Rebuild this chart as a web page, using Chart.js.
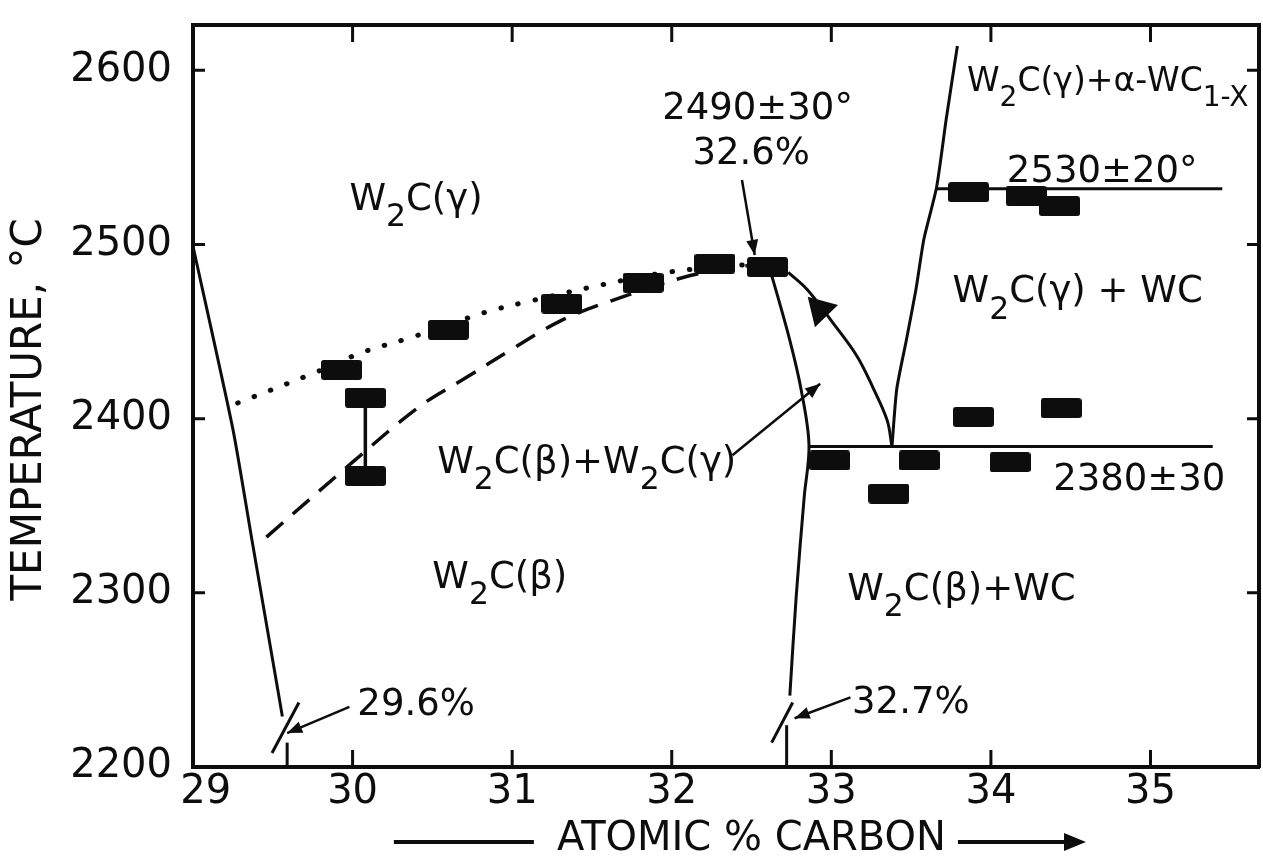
<!DOCTYPE html>
<html>
<head>
<meta charset="utf-8">
<title>W2C phase diagram</title>
<script src="https://cdn.jsdelivr.net/npm/chart.js@4.4.1/dist/chart.umd.min.js"></script>
<style>
  html, body { margin: 0; padding: 0; background: #fff; }
  canvas { display: block; }
</style>
</head>
<body>
<canvas id="chart" width="1263" height="858"></canvas>
<script>
// measured points (atomic % C, temperature in °C), drawn as black bars
const rectX = [29.93, 30.08, 30.08, 30.60, 31.31, 31.82, 32.27, 32.60, 32.99, 33.36, 33.55, 33.89, 34.12, 34.44, 33.86, 34.22, 34.43];
const rectY = [2428, 2412, 2367, 2451, 2466, 2478, 2489, 2487, 2376, 2357, 2376, 2401, 2375, 2406, 2530, 2528, 2522];

// range bar between the two points at ~30.1 %
const errX = [30.08, 30.08];
const errY = [2412, 2367];

// phase boundaries
const leftBoundX = [29.0, 29.25, 29.37, 29.50, 29.56];
const leftBoundY = [2499, 2394, 2330, 2261, 2229];
const dottedX = [29.28, 29.78, 30.06, 30.38, 30.83, 31.09, 31.57, 31.97, 32.41, 32.60];
const dottedY = [2409, 2427, 2438, 2447, 2461, 2467, 2477, 2484, 2488, 2489];
const dashedX = [29.46, 30.00, 30.42, 30.72, 31.00, 31.30, 31.60, 32.11, 32.49, 32.60];
const dashedY = [2332, 2375, 2407, 2424, 2440, 2456, 2467, 2482, 2488, 2489];
const betaBoundX = [32.60, 32.63, 32.74, 32.81, 32.86, 32.83, 32.78, 32.74];
const betaBoundY = [2489, 2481, 2445, 2417, 2385, 2355, 2298, 2241];
const arcX = [33.38, 33.35, 33.26, 33.16, 33.01, 32.85, 32.73];
const arcY = [2384, 2399, 2418, 2436, 2455, 2474, 2484];
const rightBoundX = [33.38, 33.41, 33.47, 33.53, 33.58, 33.66, 33.72, 33.79];
const rightBoundY = [2384, 2417, 2445, 2474, 2503, 2533, 2572, 2614];
const eutectoidX = [32.86, 35.39];
const eutectoidY = [2384, 2384];
const upperX = [33.66, 35.45];
const upperY = [2532, 2532];

// axis break marks near 29.6 % and 32.7 %
const break1X = [29.495, 29.664];
const break1Y = [2208, 2237];
const stub1X = [29.59, 29.59];
const stub1Y = [2200, 2214];
const break2X = [32.626, 32.758];
const break2Y = [2214, 2237];
const stub2X = [32.72, 32.72];
const stub2Y = [2200, 2224];

// leader lines, start -> tip
const lead1X = [32.44, 32.52];
const lead1Y = [2537, 2494];
const lead2X = [32.38, 32.93];
const lead2Y = [2379, 2420];
const lead3X = [29.98, 29.59];
const lead3Y = [2234.5, 2219.5];
const lead4X = [33.12, 32.77];
const lead4Y = [2240, 2228];

// text in the field ( _x or _{..} = subscript )
const noteText = ['W_2C(γ)', '2490±30°', '32.6%', 'W_2C(γ)+α-WC_{1-X}', '2530±20°', 'W_2C(γ) + WC',
  'W_2C(β)+W_2C(γ)', 'W_2C(β)', '2380±30', 'W_2C(β)+WC', '29.6%', '32.7%'];
const noteX = [29.98, 31.94, 32.13, 33.85, 34.10, 33.76, 30.53, 30.50, 34.39, 33.10, 30.03, 33.13];
const noteY = [2520, 2572, 2546, 2588, 2536, 2467, 2369, 2303, 2359, 2296, 2230, 2231];

const INK = '#0d0d0d';
const FONT = '"DejaVu Sans", sans-serif';
const NOTE_SIZE = 37;

const pts = (xs, ys) => xs.map((x, i) => ({ x, y: ys[i] }));
const line = (xs, ys, extra) => Object.assign({
  data: pts(xs, ys), showLine: true, pointRadius: 0, pointHoverRadius: 0,
  borderColor: INK, borderWidth: 3, tension: 0.35, fill: false
}, extra || {});

// black bar marker
const bar = document.createElement('canvas');
bar.width = 41; bar.height = 20;
const bctx = bar.getContext('2d');
bctx.fillStyle = INK;
bctx.beginPath();
bctx.roundRect(0, 0, 41, 20, 3);
bctx.fill();

function drawRich(ctx, str, x, y, size) {
  let i = 0, cx = x;
  while (i < str.length) {
    let seg, sub = false;
    if (str[i] === '_') {
      sub = true;
      if (str[i + 1] === '{') {
        const j = str.indexOf('}', i);
        seg = str.slice(i + 2, j);
        i = j + 1;
      } else {
        seg = str[i + 1];
        i += 2;
      }
    } else {
      let j = i;
      while (j < str.length && str[j] !== '_') j++;
      seg = str.slice(i, j);
      i = j;
    }
    ctx.font = (sub ? size * 0.85 : size) + 'px ' + FONT;
    ctx.fillText(seg, cx, sub ? y + size * 0.45 : y);
    cx += ctx.measureText(seg).width;
  }
}

function head(ctx, sx, sy, tx, ty, len, half) {
  const a = Math.atan2(ty - sy, tx - sx);
  const bx = tx - Math.cos(a) * len, by = ty - Math.sin(a) * len;
  ctx.beginPath();
  ctx.moveTo(tx, ty);
  ctx.lineTo(bx + Math.sin(a) * half, by - Math.cos(a) * half);
  ctx.lineTo(bx - Math.sin(a) * half, by + Math.cos(a) * half);
  ctx.closePath();
  ctx.fill();
}

const extras = {
  id: 'extras',
  afterDatasetsDraw(chart) {
    const { ctx, chartArea: a, scales: { x, y } } = chart;
    const px = v => x.getPixelForValue(v), py = v => y.getPixelForValue(v);
    ctx.save();
    ctx.strokeStyle = INK;
    ctx.fillStyle = INK;

    // inward ticks on all four sides
    ctx.lineWidth = 3;
    ctx.beginPath();
    x.ticks.forEach(t => {
      const p = px(t.value);
      ctx.moveTo(p, a.bottom); ctx.lineTo(p, a.bottom - 17);
      ctx.moveTo(p, a.top); ctx.lineTo(p, a.top + 17);
    });
    y.ticks.forEach(t => {
      const p = py(t.value);
      ctx.moveTo(a.left, p); ctx.lineTo(a.left + 12, p);
      ctx.moveTo(a.right, p); ctx.lineTo(a.right - 12, p);
    });
    ctx.stroke();

    // arrow heads
    [[lead1X, lead1Y], [lead2X, lead2Y], [lead3X, lead3Y], [lead4X, lead4Y]].forEach(([lx, ly]) => {
      head(ctx, px(lx[0]), py(ly[0]), px(lx[1]), py(ly[1]), 15, 6);
    });
    // big head on the arc, pointing back up to the maximum
    head(ctx, px(arcX[4]), py(arcY[4]), px(32.852), py(2470), 27, 16);

    // field text
    ctx.textBaseline = 'alphabetic';
    ctx.textAlign = 'left';
    noteText.forEach((t, i) => {
      const size = t.indexOf('α') >= 0 ? 33 : NOTE_SIZE;
      drawRich(ctx, t, px(noteX[i]), py(noteY[i]), size);
    });

    // rule and arrow beside the x title
    ctx.font = '40px ' + FONT;
    const shift = ctx.measureText('    ').width / 2;
    const w = ctx.measureText('ATOMIC % CARBON').width;
    const cx = (x.left + x.right) / 2 + shift;
    const ty = x.bottom - 16;
    ctx.lineWidth = 4;
    ctx.beginPath();
    ctx.moveTo(cx - w / 2 - 163, ty); ctx.lineTo(cx - w / 2 - 23, ty);
    ctx.moveTo(cx + w / 2 + 12, ty); ctx.lineTo(cx + w / 2 + 122, ty);
    ctx.stroke();
    head(ctx, cx + w / 2 + 100, ty, cx + w / 2 + 140, ty, 22, 9);
    ctx.restore();
  }
};

const axisFont = { family: FONT, size: 40 };
// fixed box sizes, no extra padding from label overhang
const fixBox = (w, h) => s => {
  if (w !== null) s.width = w;
  if (h !== null) s.height = h;
  s.paddingTop = 0; s.paddingBottom = 0; s.paddingLeft = 0; s.paddingRight = 0;
};

new Chart(document.getElementById('chart'), {
  type: 'scatter',
  data: {
    datasets: [
      line(leftBoundX, leftBoundY, { tension: 0.2 }),
      line(dottedX, dottedY, { borderWidth: 5, borderDash: [0.5, 17], borderCapStyle: 'round' }),
      line(dashedX, dashedY, { borderWidth: 3.5, borderDash: [22, 13] }),
      line(betaBoundX, betaBoundY),
      line(arcX, arcY),
      line(rightBoundX, rightBoundY, { tension: 0.2 }),
      line(eutectoidX, eutectoidY, { tension: 0 }),
      line(upperX, upperY, { tension: 0 }),
      line(errX, errY, { borderWidth: 3.5, tension: 0 }),
      line(break1X, break1Y, { tension: 0 }),
      line(stub1X, stub1Y, { tension: 0 }),
      line(break2X, break2Y, { tension: 0 }),
      line(stub2X, stub2Y, { tension: 0 }),
      line(lead1X, lead1Y, { borderWidth: 2.5, tension: 0 }),
      line(lead2X, lead2Y, { borderWidth: 2.5, tension: 0 }),
      line(lead3X, lead3Y, { borderWidth: 2.5, tension: 0 }),
      line(lead4X, lead4Y, { borderWidth: 2.5, tension: 0 }),
      {
        data: pts(rectX, rectY), showLine: false,
        pointStyle: bar, pointRadius: 10, pointHoverRadius: 10
      }
    ]
  },
  options: {
    responsive: false,
    devicePixelRatio: 1,
    animation: false,
    events: [],
    layout: { padding: 0, autoPadding: false },
    plugins: { legend: { display: false }, tooltip: { enabled: false } },
    scales: {
      x: {
        type: 'linear', position: 'bottom', min: 29, max: 35.68,
        afterFit: fixBox(null, 91),
        grid: { display: false, drawTicks: false },
        border: { display: true, width: 4, color: INK },
        ticks: {
          stepSize: 1, includeBounds: false, padding: 2, color: INK, font: axisFont,
          maxRotation: 0, autoSkip: false,
          callback: v => (v === 29 ? '  29' : String(v))
        },
        title: {
          display: true, text: '    ATOMIC % CARBON', color: INK,
          font: { family: FONT, size: 40, lineHeight: 0.9 }, padding: 0
        }
      },
      x2: {
        type: 'linear', position: 'top', min: 29, max: 35.68,
        afterFit: fixBox(null, 25),
        grid: { display: false, drawTicks: false },
        border: { display: true, width: 4, color: INK },
        ticks: { display: false }
      },
      y: {
        type: 'linear', position: 'left', min: 2200, max: 2626,
        afterFit: fixBox(193, null),
        grid: { display: false, drawTicks: false },
        border: { display: true, width: 4, color: INK },
        ticks: {
          stepSize: 100, includeBounds: false, padding: 21, color: INK, font: axisFont,
          callback: v => String(v)
        },
        title: {
          display: true, text: 'TEMPERATURE, °C  ', color: INK,
          font: { family: FONT, size: 42, lineHeight: 1.2 }, padding: { top: 5, bottom: 0 }
        }
      },
      y2: {
        type: 'linear', position: 'right', min: 2200, max: 2626,
        afterFit: fixBox(4, null),
        grid: { display: false, drawTicks: false },
        border: { display: true, width: 4, color: INK },
        ticks: { display: false }
      }
    }
  },
  plugins: [extras]
});
</script>
</body>
</html>
